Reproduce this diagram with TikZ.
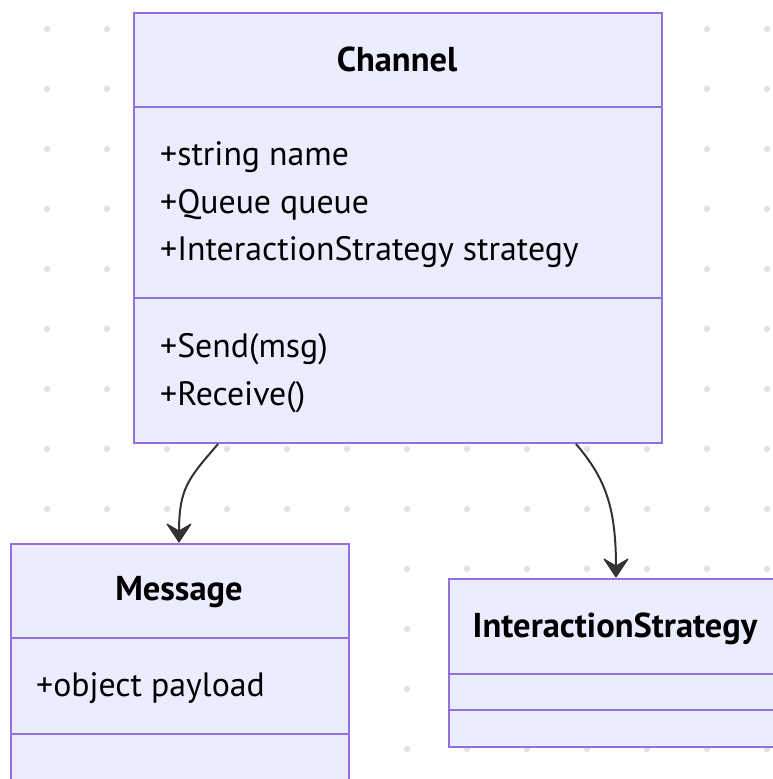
\documentclass[tikz,border=0pt]{standalone}
\usepackage{fontspec}
\setmainfont{PT Sans}
\usetikzlibrary{arrows.meta}
\definecolor{boxfill}{HTML}{ECECFF}
\definecolor{boxline}{HTML}{9370DB}
\definecolor{arr}{HTML}{333333}
\definecolor{dotc}{HTML}{E2E2E2}
\tikzset{
  umlbox/.style={draw=boxline, fill=boxfill, line width=2pt, rectangle, inner sep=0pt, anchor=north west},
  divider/.style={draw=boxline, line width=2pt},
  title/.style={font=\fontsize{34.5}{40}\selectfont\bfseries, inner sep=0pt, anchor=base},
  member/.style={font=\fontsize{33.8}{40}\selectfont, inner sep=0pt, anchor=base west},
  dep/.style={draw=arr, line width=2pt},
  chevron/.style={fill=arr, draw=arr, line width=1pt, line join=round}
}
\begin{document}
\begin{tikzpicture}[x=1pt,y=-1pt]
\useasboundingbox (0,0) rectangle (773,779);
\clip (0,0) rectangle (773,779);
\fill[white] (0,0) rectangle (773,779);
\foreach \i in {0,...,12}{
  \foreach \j in {0,...,12}{
    \fill[dotc] (47+60*\i, 29+60*\j) circle (3.2pt);
  }
}
% Channel
\node[umlbox, minimum width=528pt, minimum height=430pt] (ch) at (133,12) {};
\draw[divider] ([yshift=-95pt]ch.north west) -- ([yshift=-95pt]ch.north east);
\draw[divider] ([yshift=-286pt]ch.north west) -- ([yshift=-286pt]ch.north east);
\node[title] (chT) at (397,71) {Channel};
\node[member] (ch1) at (160,165) {+string name};
\node[member] (ch2) at (160,213) {+Queue queue};
\node[member] (ch3) at (160,260) {+InteractionStrategy strategy};
\node[member] (ch4) at (160,357) {+Send(msg)};
\node[member] (ch5) at (160,405) {+Receive()};
% Message
\node[umlbox, minimum width=338pt, minimum height=260pt] (msg) at (10,543) {};
\draw[divider] ([yshift=-95pt]msg.north west) -- ([yshift=-95pt]msg.north east);
\draw[divider] ([yshift=-191pt]msg.north west) -- ([yshift=-191pt]msg.north east);
\node[title] (msgT) at (179,600) {Message};
\node[member] (msg1) at (36,696) {+object payload};
% InteractionStrategy
\node[umlbox, minimum width=334pt, minimum height=168pt] (is) at (448,578) {};
\draw[divider] ([yshift=-96pt]is.north west) -- ([yshift=-96pt]is.north east);
\draw[divider] ([yshift=-132pt]is.north west) -- ([yshift=-132pt]is.north east);
\node[title] (isT) at (615,637) {InteractionStrategy};
% arrows
\coordinate (t1) at ([xshift=169pt,yshift=1pt]msg.north west);
\coordinate (t2) at ([xshift=168pt,yshift=1pt]is.north west);
\draw[dep] ([xshift=85pt]ch.south west) .. controls +(-30,35) and +(0,-45) .. ([yshift=9pt]t1);
\draw[dep] ([xshift=443pt]ch.south west) .. controls +(30,35) and +(0,-60) .. ([yshift=9pt]t2);
\draw[chevron] (t1) -- ++(-12,-18) -- ++(12,7) -- ++(12,-7) -- cycle;
\draw[chevron] (t2) -- ++(-12,-18) -- ++(12,7) -- ++(12,-7) -- cycle;
\end{tikzpicture}
\end{document}
